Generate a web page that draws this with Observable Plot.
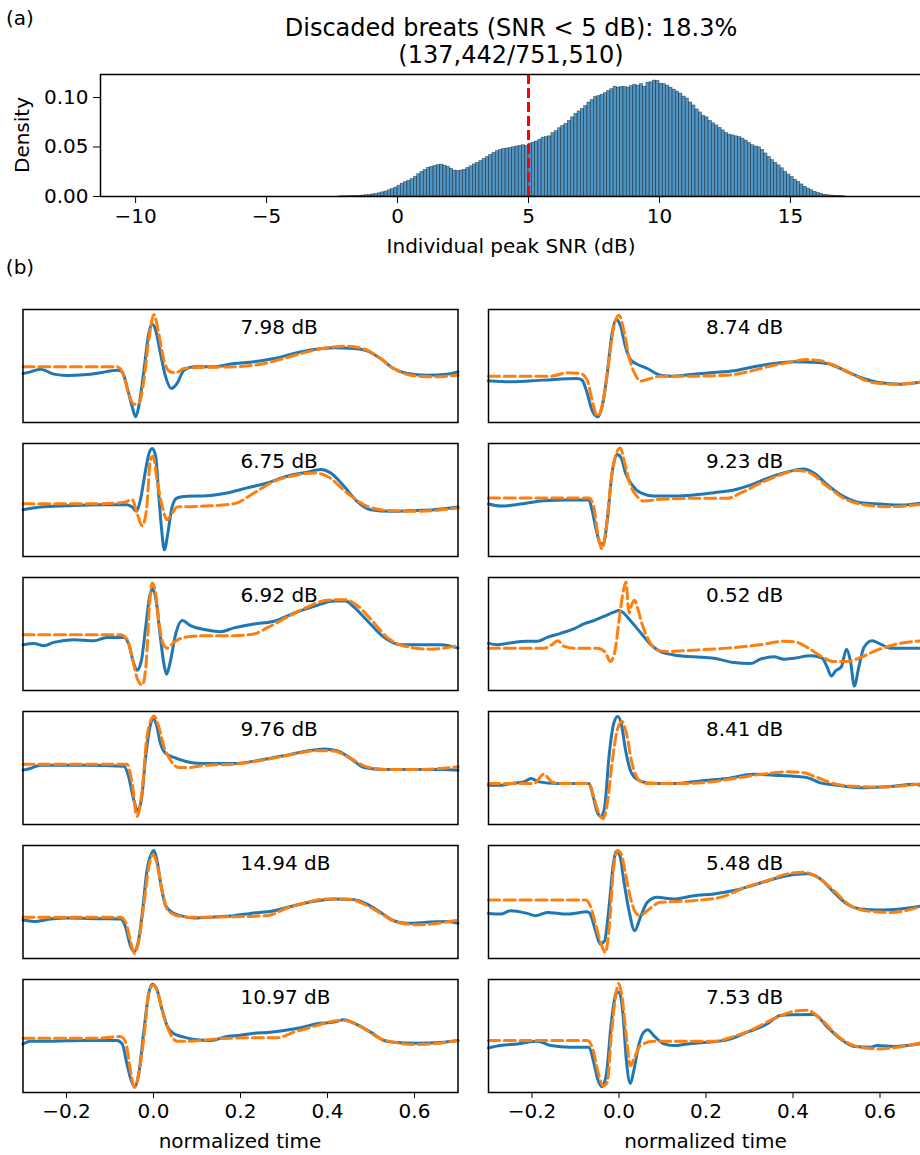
<!DOCTYPE html>
<html><head><meta charset="utf-8">
<script src="https://cdn.jsdelivr.net/npm/d3@7"></script>
<script src="https://cdn.jsdelivr.net/npm/@observablehq/plot@0.6"></script>
<style>
body{margin:0;background:#fff;}
#fig{position:relative;width:920px;height:1155px;overflow:hidden;background:#fff;font-family:"DejaVu Sans",sans-serif;color:#000;}
.lbl{position:absolute;white-space:nowrap;line-height:1;transform:translate(-50%,-50%);}
.box{position:absolute;}
</style></head><body><div id="fig"></div>
<script>
// ---------- (a) histogram data ----------
const titleLine1 = "Discaded breats (SNR < 5 dB): 18.3%";
const titleLine2 = "(137,442/751,510)";
const snrThreshold = 5;
const snrTicks = [-10, -5, 0, 5, 10, 15];
const densityTicks = [0, 0.05, 0.10];
const snrBinStart = -2.25;
const snrBinWidth = 0.125;
const snrDensity = [
  0.0002, 0.0003,
  0.0003, 0.0004, 0.0005, 0.0006, 0.0008, 0.0010, 0.0013, 0.0016,
  0.0021, 0.0026, 0.0033, 0.0042, 0.0050, 0.0063, 0.0075, 0.0090,
  0.0110, 0.0130, 0.0145, 0.0160, 0.0175, 0.0200, 0.0225, 0.0250,
  0.0270, 0.0290, 0.0300, 0.0310, 0.0318, 0.0322, 0.0312, 0.0300,
  0.0280, 0.0262, 0.0258, 0.0262, 0.0270, 0.0288, 0.0305, 0.0325,
  0.0340, 0.0358, 0.0380, 0.0400, 0.0420, 0.0440, 0.0458, 0.0470,
  0.0480, 0.0485, 0.0490, 0.0498, 0.0505, 0.0512, 0.0518, 0.0510,
  0.0535, 0.0545, 0.0556, 0.0575, 0.0595, 0.0600, 0.0608, 0.0640,
  0.0660, 0.0690, 0.0715, 0.0735, 0.0765, 0.0800, 0.0835, 0.0860,
  0.0885, 0.0915, 0.0950, 0.0975, 0.1005, 0.1015, 0.1028, 0.1045,
  0.1065, 0.1085, 0.1110, 0.1100, 0.1108, 0.1105, 0.1100, 0.1115,
  0.1130, 0.1120, 0.1135, 0.1110, 0.1150, 0.1155, 0.1172, 0.1168,
  0.1140, 0.1135, 0.1120, 0.1100, 0.1080, 0.1060, 0.1040, 0.1010,
  0.0990, 0.0950, 0.0920, 0.0880, 0.0850, 0.0815, 0.0800, 0.0765,
  0.0740, 0.0718, 0.0694, 0.0668, 0.0640, 0.0625, 0.0617, 0.0608,
  0.0600, 0.0585, 0.0565, 0.0540, 0.0518, 0.0505, 0.0498, 0.0470,
  0.0435, 0.0400, 0.0368, 0.0340, 0.0315, 0.0285, 0.0250, 0.0222,
  0.0198, 0.0170, 0.0148, 0.0122, 0.0098, 0.0080, 0.0063, 0.0048,
  0.0036, 0.0026, 0.0018, 0.0013, 0.0010, 0.0007, 0.0005, 0.0004,
  0.0002
];

// ---------- (b) example beats: [normalized time, normalized amplitude] ----------
const timeTicks = [-0.2, 0, 0.2, 0.4, 0.6];
const leftSnrLabels  = ["7.98 dB", "6.75 dB", "6.92 dB", "9.76 dB", "14.94 dB", "10.97 dB"];
const rightSnrLabels = ["8.74 dB", "9.23 dB", "0.52 dB", "8.41 dB", "5.48 dB", "7.53 dB"];

const beat798Measured = [[-0.300,0.434],[-0.283,0.448],[-0.260,0.472],[-0.229,0.428],[-0.198,0.416],[-0.160,0.422],[-0.122,0.440],[-0.084,0.463],[-0.072,0.448],[-0.061,0.316],[-0.049,0.139],[-0.041,0.050],[-0.034,0.139],[-0.022,0.463],[-0.011,0.786],[-0.003,0.870],[0.005,0.817],[0.016,0.611],[0.028,0.404],[0.041,0.301],[0.054,0.345],[0.070,0.463],[0.093,0.493],[0.139,0.493],[0.185,0.522],[0.231,0.537],[0.277,0.566],[0.323,0.611],[0.369,0.646],[0.415,0.661],[0.461,0.655],[0.491,0.634],[0.522,0.566],[0.552,0.478],[0.583,0.434],[0.629,0.419],[0.675,0.428],[0.700,0.448]];
const beat798Template = [[-0.300,0.493],[-0.084,0.493],[-0.072,0.448],[-0.057,0.257],[-0.045,0.162],[-0.034,0.168],[-0.022,0.375],[-0.011,0.729],[0.001,0.955],[0.012,0.786],[0.024,0.552],[0.035,0.457],[0.051,0.440],[0.070,0.478],[0.108,0.487],[0.185,0.493],[0.246,0.516],[0.300,0.566],[0.353,0.625],[0.399,0.661],[0.445,0.676],[0.491,0.640],[0.522,0.566],[0.552,0.478],[0.591,0.419],[0.637,0.404],[0.700,0.419]];

const beat675Measured = [[-0.300,0.414],[-0.260,0.438],[-0.198,0.450],[-0.122,0.459],[-0.061,0.459],[-0.049,0.438],[-0.039,0.400],[-0.030,0.503],[-0.018,0.769],[-0.011,0.902],[-0.003,0.955],[0.005,0.888],[0.012,0.549],[0.018,0.266],[0.025,0.059],[0.033,0.207],[0.043,0.444],[0.054,0.518],[0.077,0.533],[0.123,0.538],[0.169,0.562],[0.215,0.607],[0.261,0.651],[0.307,0.710],[0.353,0.746],[0.384,0.769],[0.407,0.740],[0.438,0.621],[0.468,0.488],[0.499,0.414],[0.545,0.400],[0.606,0.408],[0.644,0.414],[0.700,0.438]];
const beat675Template = [[-0.300,0.467],[-0.122,0.467],[-0.068,0.479],[-0.049,0.503],[-0.038,0.385],[-0.026,0.272],[-0.016,0.414],[-0.007,0.858],[-0.001,0.888],[0.008,0.680],[0.020,0.444],[0.031,0.325],[0.043,0.385],[0.054,0.438],[0.108,0.444],[0.185,0.467],[0.231,0.562],[0.277,0.666],[0.323,0.716],[0.369,0.740],[0.399,0.710],[0.445,0.562],[0.491,0.444],[0.537,0.408],[0.606,0.400],[0.700,0.429]];

const beat692Measured = [[-0.300,0.405],[-0.275,0.417],[-0.252,0.396],[-0.229,0.426],[-0.183,0.449],[-0.137,0.440],[-0.107,0.470],[-0.068,0.470],[-0.057,0.411],[-0.047,0.262],[-0.038,0.179],[-0.028,0.262],[-0.018,0.560],[-0.009,0.827],[-0.002,0.902],[0.006,0.798],[0.015,0.500],[0.024,0.232],[0.030,0.143],[0.039,0.262],[0.051,0.500],[0.066,0.619],[0.085,0.574],[0.123,0.536],[0.154,0.521],[0.185,0.554],[0.231,0.589],[0.277,0.613],[0.323,0.685],[0.369,0.744],[0.415,0.792],[0.441,0.792],[0.461,0.738],[0.491,0.619],[0.530,0.470],[0.568,0.405],[0.614,0.405],[0.660,0.405],[0.700,0.375]];
const beat692Template = [[-0.300,0.494],[-0.076,0.494],[-0.061,0.455],[-0.049,0.292],[-0.038,0.113],[-0.026,0.048],[-0.017,0.232],[-0.009,0.768],[-0.003,0.952],[0.005,0.857],[0.012,0.619],[0.021,0.426],[0.031,0.375],[0.047,0.426],[0.070,0.470],[0.123,0.485],[0.185,0.485],[0.231,0.500],[0.261,0.554],[0.307,0.649],[0.353,0.738],[0.399,0.798],[0.438,0.804],[0.468,0.753],[0.499,0.634],[0.537,0.470],[0.583,0.387],[0.637,0.366],[0.700,0.396]];

const beat976Measured = [[-0.300,0.481],[-0.283,0.496],[-0.260,0.525],[-0.160,0.525],[-0.068,0.516],[-0.057,0.421],[-0.047,0.243],[-0.036,0.125],[-0.028,0.214],[-0.018,0.599],[-0.008,0.866],[-0.001,0.941],[0.007,0.881],[0.016,0.718],[0.028,0.629],[0.047,0.593],[0.077,0.555],[0.108,0.540],[0.185,0.540],[0.246,0.570],[0.307,0.614],[0.353,0.650],[0.392,0.668],[0.422,0.653],[0.453,0.585],[0.484,0.504],[0.530,0.487],[0.606,0.487],[0.667,0.487],[0.700,0.481]];
const beat976Template = [[-0.300,0.534],[-0.061,0.534],[-0.049,0.362],[-0.038,0.071],[-0.026,0.303],[-0.015,0.777],[0.001,0.961],[0.012,0.866],[0.024,0.688],[0.039,0.570],[0.058,0.504],[0.077,0.504],[0.123,0.525],[0.185,0.534],[0.261,0.576],[0.323,0.623],[0.376,0.653],[0.415,0.650],[0.453,0.585],[0.491,0.510],[0.537,0.487],[0.606,0.487],[0.700,0.510]];

const beat1494Measured = [[-0.300,0.340],[-0.275,0.328],[-0.237,0.349],[-0.198,0.358],[-0.122,0.352],[-0.076,0.349],[-0.064,0.275],[-0.053,0.112],[-0.045,0.062],[-0.036,0.127],[-0.026,0.393],[-0.015,0.778],[-0.005,0.926],[0.001,0.956],[0.008,0.867],[0.018,0.630],[0.028,0.467],[0.043,0.408],[0.062,0.379],[0.093,0.358],[0.146,0.370],[0.185,0.379],[0.223,0.399],[0.277,0.423],[0.323,0.467],[0.369,0.506],[0.415,0.527],[0.461,0.521],[0.491,0.482],[0.522,0.408],[0.552,0.334],[0.583,0.311],[0.637,0.322],[0.675,0.328],[0.700,0.311]];
const beat1494Template = [[-0.300,0.364],[-0.076,0.364],[-0.064,0.320],[-0.053,0.157],[-0.044,0.044],[-0.034,0.157],[-0.022,0.482],[-0.011,0.808],[-0.001,0.920],[0.008,0.837],[0.020,0.601],[0.031,0.438],[0.054,0.379],[0.093,0.364],[0.185,0.370],[0.261,0.379],[0.307,0.447],[0.353,0.497],[0.399,0.527],[0.445,0.527],[0.484,0.482],[0.522,0.399],[0.560,0.320],[0.606,0.299],[0.700,0.340]];

const beat1097Measured = [[-0.300,0.430],[-0.283,0.454],[-0.237,0.454],[-0.160,0.460],[-0.084,0.460],[-0.072,0.430],[-0.061,0.252],[-0.051,0.104],[-0.043,0.050],[-0.034,0.163],[-0.022,0.549],[-0.011,0.875],[-0.003,0.958],[0.007,0.920],[0.018,0.757],[0.031,0.593],[0.047,0.519],[0.070,0.490],[0.100,0.466],[0.131,0.460],[0.169,0.496],[0.200,0.507],[0.231,0.525],[0.261,0.531],[0.300,0.549],[0.338,0.573],[0.376,0.608],[0.415,0.623],[0.438,0.644],[0.461,0.614],[0.499,0.534],[0.530,0.460],[0.552,0.445],[0.606,0.436],[0.660,0.442],[0.700,0.460]];
const beat1097Template = [[-0.300,0.481],[-0.122,0.481],[-0.076,0.496],[-0.064,0.445],[-0.053,0.193],[-0.044,0.045],[-0.034,0.163],[-0.022,0.490],[-0.011,0.875],[-0.001,0.950],[0.008,0.905],[0.020,0.727],[0.035,0.549],[0.054,0.454],[0.077,0.454],[0.146,0.475],[0.223,0.484],[0.284,0.484],[0.323,0.534],[0.369,0.585],[0.415,0.632],[0.438,0.638],[0.476,0.585],[0.522,0.475],[0.560,0.439],[0.606,0.424],[0.700,0.460]];

const beat874Measured = [[-0.300,0.369],[-0.249,0.360],[-0.173,0.375],[-0.096,0.389],[-0.085,0.375],[-0.073,0.257],[-0.062,0.109],[-0.049,0.050],[-0.039,0.139],[-0.027,0.434],[-0.016,0.788],[-0.006,0.912],[0.003,0.861],[0.015,0.670],[0.026,0.558],[0.042,0.516],[0.065,0.478],[0.095,0.419],[0.126,0.410],[0.172,0.428],[0.218,0.442],[0.264,0.457],[0.310,0.493],[0.356,0.522],[0.402,0.537],[0.448,0.534],[0.479,0.522],[0.517,0.463],[0.555,0.398],[0.601,0.351],[0.647,0.339],[0.700,0.360]];
const beat874Template = [[-0.300,0.410],[-0.157,0.410],[-0.119,0.440],[-0.089,0.434],[-0.073,0.375],[-0.062,0.198],[-0.049,0.056],[-0.036,0.198],[-0.023,0.552],[-0.012,0.847],[0.000,0.950],[0.011,0.817],[0.023,0.581],[0.038,0.419],[0.049,0.366],[0.065,0.381],[0.095,0.410],[0.172,0.410],[0.249,0.419],[0.295,0.448],[0.341,0.493],[0.387,0.528],[0.433,0.558],[0.463,0.546],[0.494,0.507],[0.540,0.419],[0.586,0.351],[0.632,0.339],[0.700,0.360]];

const beat923Measured = [[-0.300,0.464],[-0.272,0.446],[-0.226,0.464],[-0.173,0.494],[-0.119,0.500],[-0.069,0.500],[-0.062,0.411],[-0.052,0.232],[-0.043,0.113],[-0.036,0.113],[-0.027,0.321],[-0.016,0.738],[-0.004,0.902],[0.005,0.872],[0.015,0.738],[0.030,0.634],[0.049,0.565],[0.080,0.536],[0.126,0.536],[0.172,0.545],[0.218,0.565],[0.264,0.589],[0.310,0.643],[0.356,0.714],[0.402,0.762],[0.425,0.774],[0.448,0.738],[0.479,0.634],[0.517,0.530],[0.555,0.476],[0.601,0.464],[0.647,0.455],[0.700,0.476]];
const beat923Template = [[-0.300,0.518],[-0.069,0.518],[-0.058,0.440],[-0.049,0.202],[-0.039,0.068],[-0.029,0.262],[-0.018,0.679],[-0.006,0.917],[0.003,0.961],[0.013,0.827],[0.026,0.634],[0.042,0.530],[0.057,0.491],[0.095,0.506],[0.172,0.515],[0.249,0.515],[0.279,0.560],[0.325,0.649],[0.371,0.723],[0.410,0.762],[0.440,0.738],[0.479,0.619],[0.524,0.500],[0.570,0.455],[0.616,0.440],[0.700,0.464]];

const beat052Measured = [[-0.300,0.417],[-0.280,0.405],[-0.257,0.417],[-0.211,0.435],[-0.188,0.435],[-0.165,0.470],[-0.134,0.506],[-0.104,0.545],[-0.081,0.589],[-0.058,0.619],[-0.035,0.655],[-0.012,0.693],[0.000,0.708],[0.011,0.685],[0.026,0.619],[0.049,0.515],[0.072,0.411],[0.095,0.345],[0.126,0.315],[0.172,0.298],[0.218,0.286],[0.264,0.247],[0.302,0.238],[0.325,0.277],[0.356,0.298],[0.379,0.277],[0.402,0.286],[0.440,0.307],[0.467,0.286],[0.479,0.202],[0.488,0.128],[0.498,0.173],[0.511,0.208],[0.523,0.366],[0.532,0.262],[0.541,0.039],[0.551,0.202],[0.563,0.381],[0.582,0.440],[0.601,0.411],[0.624,0.375],[0.662,0.375],[0.700,0.372]];
const beat052Template = [[-0.300,0.375],[-0.173,0.375],[-0.154,0.405],[-0.141,0.440],[-0.127,0.393],[-0.104,0.375],[-0.050,0.375],[-0.031,0.336],[-0.020,0.256],[-0.010,0.336],[0.002,0.679],[0.011,0.902],[0.016,0.961],[0.023,0.685],[0.030,0.768],[0.036,0.798],[0.042,0.738],[0.053,0.589],[0.069,0.440],[0.088,0.357],[0.111,0.345],[0.172,0.357],[0.249,0.375],[0.325,0.405],[0.379,0.435],[0.402,0.432],[0.433,0.381],[0.463,0.307],[0.494,0.256],[0.524,0.256],[0.555,0.292],[0.593,0.357],[0.632,0.405],[0.700,0.440]];

const beat841Measured = [[-0.300,0.347],[-0.272,0.347],[-0.249,0.362],[-0.219,0.377],[-0.202,0.407],[-0.184,0.377],[-0.142,0.362],[-0.069,0.362],[-0.059,0.243],[-0.050,0.110],[-0.041,0.071],[-0.033,0.154],[-0.023,0.599],[-0.012,0.896],[-0.003,0.955],[0.005,0.896],[0.015,0.659],[0.026,0.481],[0.042,0.398],[0.065,0.368],[0.126,0.362],[0.187,0.386],[0.249,0.407],[0.310,0.445],[0.356,0.436],[0.402,0.427],[0.433,0.415],[0.463,0.368],[0.502,0.347],[0.555,0.326],[0.601,0.332],[0.632,0.338],[0.678,0.356],[0.700,0.338]];
const beat841Template = [[-0.300,0.362],[-0.196,0.362],[-0.173,0.445],[-0.154,0.377],[-0.134,0.362],[-0.069,0.362],[-0.058,0.243],[-0.046,0.095],[-0.037,0.050],[-0.027,0.184],[-0.016,0.540],[-0.004,0.837],[0.007,0.911],[0.017,0.807],[0.030,0.540],[0.046,0.392],[0.065,0.362],[0.134,0.362],[0.210,0.377],[0.287,0.421],[0.341,0.451],[0.387,0.466],[0.425,0.457],[0.456,0.415],[0.494,0.362],[0.540,0.338],[0.601,0.332],[0.700,0.362]];

const beat548Measured = [[-0.300,0.399],[-0.272,0.393],[-0.249,0.423],[-0.211,0.399],[-0.192,0.379],[-0.165,0.408],[-0.119,0.393],[-0.073,0.414],[-0.066,0.393],[-0.054,0.246],[-0.043,0.127],[-0.033,0.157],[-0.023,0.453],[-0.013,0.837],[-0.006,0.950],[0.002,0.911],[0.011,0.689],[0.023,0.423],[0.036,0.246],[0.049,0.364],[0.065,0.497],[0.088,0.541],[0.126,0.527],[0.172,0.556],[0.218,0.571],[0.264,0.601],[0.310,0.651],[0.356,0.704],[0.402,0.743],[0.433,0.749],[0.463,0.704],[0.494,0.586],[0.524,0.482],[0.555,0.438],[0.601,0.429],[0.647,0.438],[0.700,0.467]];
const beat548Template = [[-0.300,0.518],[-0.077,0.518],[-0.066,0.467],[-0.054,0.305],[-0.041,0.127],[-0.031,0.053],[-0.022,0.305],[-0.013,0.778],[-0.004,0.956],[0.005,0.926],[0.015,0.749],[0.026,0.541],[0.038,0.408],[0.049,0.379],[0.065,0.423],[0.095,0.497],[0.172,0.512],[0.233,0.541],[0.287,0.624],[0.341,0.689],[0.387,0.749],[0.425,0.763],[0.456,0.719],[0.494,0.601],[0.532,0.467],[0.578,0.417],[0.624,0.408],[0.700,0.467]];

const beat753Measured = [[-0.300,0.395],[-0.272,0.415],[-0.234,0.430],[-0.188,0.454],[-0.157,0.415],[-0.111,0.401],[-0.069,0.401],[-0.059,0.282],[-0.049,0.119],[-0.039,0.050],[-0.029,0.163],[-0.018,0.608],[-0.007,0.875],[0.000,0.890],[0.009,0.697],[0.017,0.282],[0.026,0.080],[0.034,0.193],[0.046,0.430],[0.057,0.534],[0.066,0.555],[0.080,0.504],[0.103,0.430],[0.126,0.415],[0.157,0.430],[0.203,0.445],[0.249,0.466],[0.295,0.534],[0.341,0.608],[0.371,0.682],[0.402,0.688],[0.448,0.691],[0.479,0.579],[0.509,0.475],[0.540,0.407],[0.578,0.401],[0.593,0.415],[0.632,0.407],[0.700,0.436]];
const beat753Template = [[-0.300,0.460],[-0.073,0.460],[-0.059,0.371],[-0.049,0.193],[-0.036,0.059],[-0.027,0.089],[-0.018,0.490],[-0.008,0.846],[-0.001,0.964],[0.007,0.846],[0.017,0.490],[0.026,0.237],[0.036,0.312],[0.049,0.415],[0.080,0.454],[0.134,0.454],[0.218,0.454],[0.264,0.496],[0.310,0.564],[0.356,0.653],[0.402,0.718],[0.433,0.727],[0.463,0.653],[0.502,0.504],[0.540,0.415],[0.593,0.386],[0.700,0.445]];

const leftBeats  = [[beat798Measured, beat798Template],[beat675Measured, beat675Template],[beat692Measured, beat692Template],[beat976Measured, beat976Template],[beat1494Measured, beat1494Template],[beat1097Measured, beat1097Template]];
const rightBeats = [[beat874Measured, beat874Template],[beat923Measured, beat923Template],[beat052Measured, beat052Template],[beat841Measured, beat841Template],[beat548Measured, beat548Template],[beat753Measured, beat753Template]];

// ---------- rendering ----------
const fig = document.getElementById("fig");
const FONT = "DejaVu Sans";
const BLUE = "#1f77b4", ORANGE = "#ff7f0e";
const minus = s => s.replace("-", "\u2212");

function addText(txt, x, y, size, rotate) {
  const d = document.createElement("div");
  d.className = "lbl";
  d.textContent = txt;
  d.style.left = x + "px";
  d.style.top = y + "px";
  d.style.fontSize = size + "px";
  if (rotate) d.style.transform = "translate(-50%,-50%) rotate(" + rotate + "deg)";
  fig.appendChild(d);
}
function place(node, left, top) {
  const w = document.createElement("div");
  w.className = "box";
  w.style.left = left + "px";
  w.style.top = top + "px";
  w.appendChild(node);
  fig.appendChild(w);
}

// (a) histogram
const histRows = snrDensity.map((v, i) => ({x1: snrBinStart + i * snrBinWidth, x2: snrBinStart + (i + 1) * snrBinWidth, y: v}));
const hist = Plot.plot({
  width: 928, height: 196,
  marginLeft: 100, marginRight: 5, marginTop: 10, marginBottom: 64,
  style: {fontFamily: FONT, fontSize: "20px", maxWidth: "none", background: "transparent", color: "#000"},
  x: {domain: [-11.34, 20.08], ticks: snrTicks, tickFormat: d => minus(String(d)), tickSize: 7, tickPadding: 5, label: null},
  y: {domain: [0, 0.1233], ticks: densityTicks, tickFormat: d3.format(".2f"), tickSize: 7, tickPadding: 5, label: null},
  marks: [
    Plot.rectY(histRows, {x1: "x1", x2: "x2", y: "y", fill: BLUE, fillOpacity: 0.78, stroke: "#000", strokeOpacity: 0.55, strokeWidth: 0.6}),
    Plot.ruleX([snrThreshold], {stroke: "red", strokeWidth: 3, strokeDasharray: "10,4"}),
    Plot.frame({stroke: "#000", strokeWidth: 1.5})
  ]
});
place(hist, 0, 64);

addText("(a)", 20, 18, 20);
addText(titleLine1, 511, 28, 24);
addText(titleLine2, 511, 55, 24);
addText("Density", 22, 135, 20, -90);
addText("Individual peak SNR (dB)", 511, 246, 20);
addText("(b)", 20, 267, 20);

// (b) beats
const PANEL_W = 435, PANEL_H = 113, TOP0 = 309, STEP = 134;
function beatPanel(measured, template, label, showAxis, mLeft) {
  return Plot.plot({
    width: mLeft + PANEL_W + 4,
    height: 2 + PANEL_H + (showAxis ? 40 : 2),
    marginLeft: mLeft, marginRight: 4, marginTop: 2, marginBottom: showAxis ? 40 : 2,
    style: {fontFamily: FONT, fontSize: "20px", maxWidth: "none", background: "transparent", color: "#000"},
    x: {domain: [-0.3, 0.7], ticks: timeTicks, tickFormat: d => minus(d.toFixed(1)), tickSize: 6, tickPadding: 5, label: null, axis: showAxis ? "bottom" : null},
    y: {domain: [0, 1], axis: null},
    marks: [
      Plot.line(measured, {x: d => d[0], y: d => d[1], stroke: BLUE, strokeWidth: 3, curve: "monotone-x"}),
      Plot.line(template, {x: d => d[0], y: d => d[1], stroke: ORANGE, strokeWidth: 3, strokeDasharray: "11,4.8", curve: "monotone-x"}),
      Plot.text([label], {x: [0.2], text: d => d, frameAnchor: "top", lineAnchor: "top", textAnchor: "start", dy: 10, fontSize: 20, fill: "#000"}),
      Plot.frame({stroke: "#000", strokeWidth: 1.5})
    ]
  });
}
leftBeats.forEach(([m, t], r) => {
  place(beatPanel(m, t, leftSnrLabels[r], r === 5, 22.5), 0, TOP0 + r * STEP - 2);
});
rightBeats.forEach(([m, t], r) => {
  place(beatPanel(m, t, rightSnrLabels[r], r === 5, 23), 465, TOP0 + r * STEP - 2);
});
addText("normalized time", 240, 1141, 20);
addText("normalized time", 705.5, 1141, 20);
</script></body></html>
